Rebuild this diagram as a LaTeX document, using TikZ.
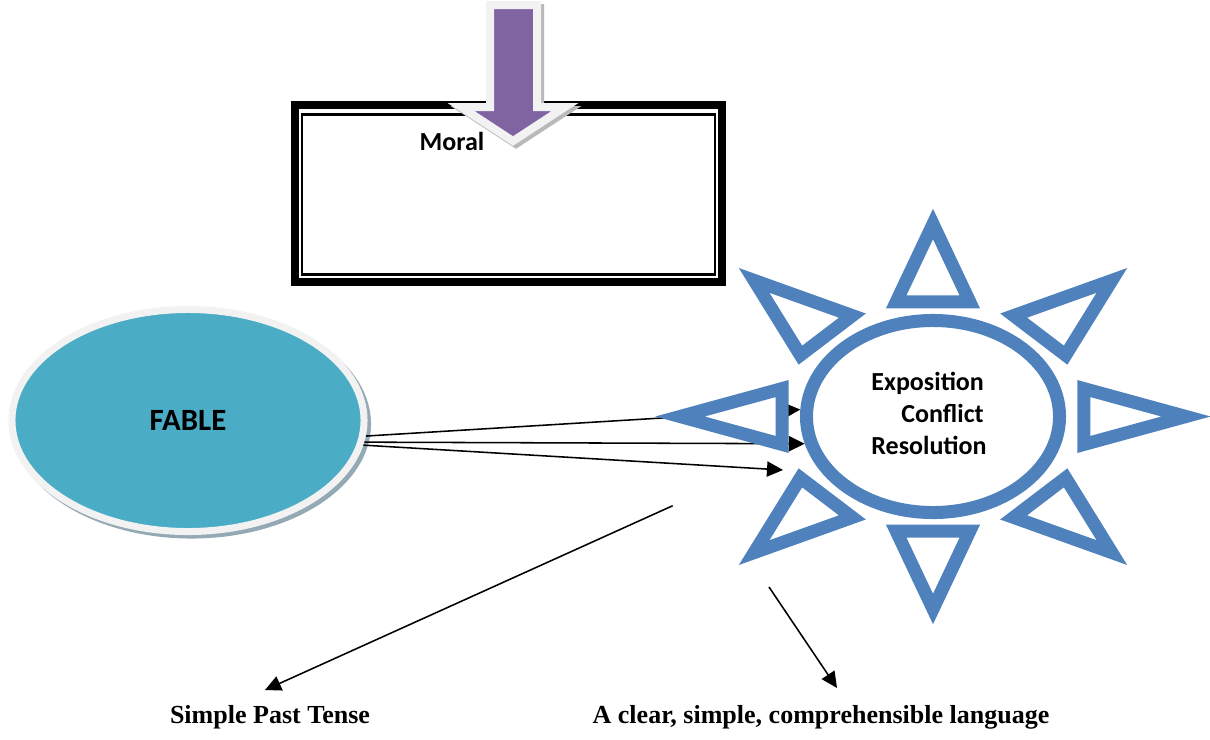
\documentclass[tikz,border=0pt]{standalone}
\usepackage{fontspec}
\setmainfont{Carlito}
\newfontfamily\timesfont{Liberation Serif}
\usetikzlibrary{arrows.meta,shapes.geometric}
\definecolor{sunblue}{HTML}{4F81BD}
\definecolor{fabteal}{HTML}{4BACC6}
\definecolor{moralpurple}{HTML}{8064A2}
\definecolor{rimgray}{HTML}{F2F2F2}
\definecolor{shadowgray}{HTML}{93AAB4}

\begin{document}
\begin{tikzpicture}[
        x=0.025cm, y=-0.025cm, % единица = один пиксель
        oval/.style = {ellipse, fill=fabteal, draw=rimgray, line width=1.75mm, minimum width=88mm, minimum height=55.5mm, inner sep=0pt, font=\bfseries\fontsize{22}{26}\selectfont},
        core/.style = {ellipse, fill=white, draw=sunblue, line width=3.25mm, minimum width=63.25mm, minimum height=48mm, inner sep=0pt, text depth=1.5mm, align=left, font=\bfseries\fontsize{18.5}{22.8}\selectfont},
        ray/.style = {draw=sunblue, fill=white, line width=3.25mm, line join=miter},
        frame/.style = {draw, line width=2mm, minimum width=106.5mm, minimum height=44.15mm, inner sep=0pt},
        innerframe/.style = {draw, line width=0.6mm, minimum width=103.2mm, minimum height=40mm, inner sep=0pt},
        drop/.style = {fill=moralpurple, draw=rimgray, line width=2mm, line join=miter},
        link/.style = {draw, line width=1.1pt, -{Triangle[length=4mm, width=3.8mm]}},
        caption/.style = {anchor=base, font=\timesfont\bfseries\fontsize{18.5}{22}\selectfont},
    ]
    \path[use as bounding box] (0,0) rectangle (1210,739);

    % рамка с моралью
    \node[frame] (moralbox) at (508.5,193.5) {};
    \node[innerframe] (moralinner) at (508.35,194.5) {};
    \node[anchor=base, font=\bfseries\fontsize{18.5}{22}\selectfont] (moral) at (452,150) {Moral};

    % стрелка сверху
    \filldraw[gray!55, line width=2mm, shift={(3,3)}] (490,5) -- (537,5) -- (537,107) -- (565,107) -- (513,141) -- (461,107) -- (490,107) -- cycle;
    \draw[drop] (490,5) -- (537,5) -- (537,107) -- (565,107) -- (513,141) -- (461,107) -- (490,107) -- cycle;

    % басня
    \fill[shadowgray] (191.5,424) ellipse [x radius=44.875mm, y radius=28.625mm];
    \node[oval] (fable) at (188,420.5) {FABLE};

    % солнце
    \node[core] (plot) at (933,416.5) {Exposition\\\hspace*{7.5mm}Conflict\\Resolution\hspace*{2mm}};

    \coordinate (t3) at (783,470);
    \coordinate (s4) at (672.7,505.7);
    \coordinate (t4) at (265,690);
    \coordinate (s5) at (769,587);
    \coordinate (t5) at (837,688);

    \draw[link] (fable.-5) -- (plot.177);
    \draw[link] (fable.-7.5) -- (plot.192);
    \draw[link] (fable.-8) -- (t3);
    \draw[link] (s4) -- (t4);
    \draw[link] (s5) -- (t5);

    \begin{scope}[shift={(933,416.5)}, xscale=253, yscale=192.5]
        \foreach \a in {0,45,...,315}
            \draw[ray] (\a:1) -- (\a+13.7:0.6135) -- (\a-13.7:0.6135) -- cycle;
    \end{scope}

    % подписи
    \node[caption] (tense) at (270,723) {Simple Past Tense};
    \node[caption] (lang) at (821,723) {A clear, simple, comprehensible language};
\end{tikzpicture}
\end{document}
